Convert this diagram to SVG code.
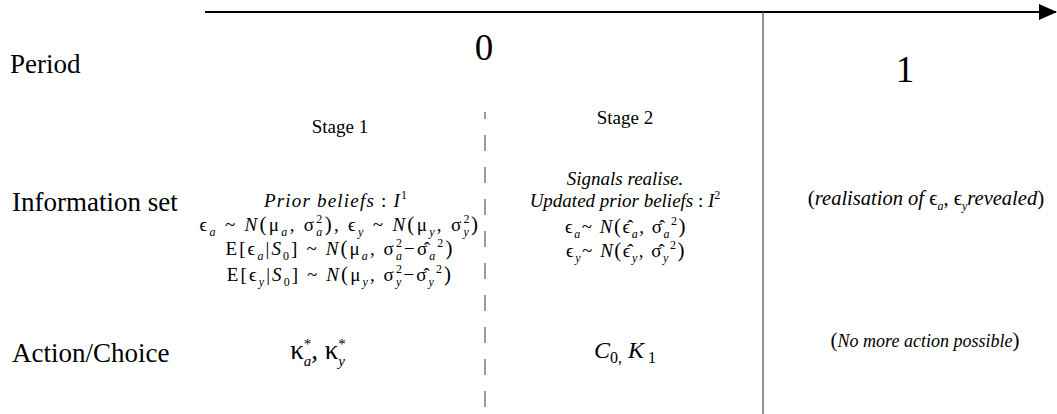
<svg xmlns="http://www.w3.org/2000/svg" width="1057" height="414" viewBox="0 0 1057 414">
<style>
text{font-family:"Liberation Serif","DejaVu Serif",serif;fill:#000}
.lbl{font-size:27px}
.big{font-size:37px;text-anchor:middle}
.st{font-size:19px;text-anchor:middle}
.m{font-size:19px;text-anchor:middle}
.m2{font-size:19px;text-anchor:middle;letter-spacing:1.5px}
.i{font-style:italic}
.s{font-size:12px}
.p{font-size:21px}
.ax{stroke:#000;stroke-width:2;fill:none}
.div{stroke:#555;stroke-width:1.3;fill:none}
.dash{stroke:#666;stroke-width:1.3;stroke-dasharray:16 16;fill:none}
</style>
<defs>
<marker id="ah" markerWidth="18" markerHeight="16" refX="17" refY="8" orient="auto" markerUnits="userSpaceOnUse" viewBox="0 0 18 16">
<path d="M0,0 L18,8 L0,16 z" fill="#000"/>
</marker>
</defs>
<g id="connectors">
<path class="ax" d="M205,12 H1056" marker-end="url(#ah)"/>
<path class="div" d="M763,12 V414"/>
<path class="dash" d="M485,112 V410" stroke-dashoffset="9"/>
</g>
<g id="row-labels">
<text class="lbl" x="10" y="73">Period</text>
<text class="lbl" x="12" y="211">Information set</text>
<text class="lbl" x="12" y="362">Action/Choice</text>
</g>
<g id="period-0"><text class="big" x="484" y="60">0</text></g>
<g id="period-1"><text class="big" x="905" y="82">1</text></g>
<g id="stage-1">
<text class="st" x="340" y="133">Stage 1</text>
<text class="m" x="336" y="207" style="letter-spacing:1.2px"><tspan class="i">Prior beliefs</tspan> : <tspan class="i">I</tspan><tspan class="s" dy="-8">1</tspan></text>
<text class="m" x="340" y="231" style="letter-spacing:2.3px">ϵ<tspan class="s i" dy="5">a</tspan><tspan dy="-5"> ~ </tspan><tspan class="i">N</tspan><tspan class="p">(</tspan>μ<tspan class="s i" dy="5">a</tspan><tspan dy="-5">, σ</tspan><tspan class="s" dy="-8.5">2</tspan><tspan class="s i" dx="-8.3" dy="13.5">a</tspan><tspan class="p" dy="-5">)</tspan>, ϵ<tspan class="s i" dy="5">y</tspan><tspan dy="-5"> ~ </tspan><tspan class="i">N</tspan><tspan class="p">(</tspan>μ<tspan class="s i" dy="5">y</tspan><tspan dy="-5">, σ</tspan><tspan class="s" dy="-8.5">2</tspan><tspan class="s i" dx="-8.3" dy="13.5">y</tspan><tspan class="p" dy="-5">)</tspan></text>
<text class="m" x="340" y="255" style="letter-spacing:2.1px">E[ϵ<tspan class="s i" dy="5">a</tspan><tspan dy="-5">|</tspan><tspan class="i">S</tspan><tspan class="s" dy="5">0</tspan><tspan dy="-5">] ~ </tspan><tspan class="i">N</tspan><tspan class="p">(</tspan>μ<tspan class="s i" dy="5">a</tspan><tspan dy="-5">, σ</tspan><tspan class="s" dy="-8.5">2</tspan><tspan class="s i" dx="-8.1" dy="13.5">a</tspan><tspan dy="-5">−σ̂</tspan><tspan class="s i" dy="5">a</tspan><tspan class="s" dy="-13">2</tspan><tspan class="p" dy="8">)</tspan></text>
<text class="m" x="340" y="281" style="letter-spacing:2.1px">E[ϵ<tspan class="s i" dy="5">y</tspan><tspan dy="-5">|</tspan><tspan class="i">S</tspan><tspan class="s" dy="5">0</tspan><tspan dy="-5">] ~ </tspan><tspan class="i">N</tspan><tspan class="p">(</tspan>μ<tspan class="s i" dy="5">y</tspan><tspan dy="-5">, σ</tspan><tspan class="s" dy="-8.5">2</tspan><tspan class="s i" dx="-8.1" dy="13.5">y</tspan><tspan dy="-5">−σ̂</tspan><tspan class="s i" dy="5">y</tspan><tspan class="s" dy="-13">2</tspan><tspan class="p" dy="8">)</tspan></text>
<text x="318" y="359" style="font-size:27px;text-anchor:middle">κ<tspan style="font-size:15px" dy="-10">*</tspan><tspan class="i" style="font-size:15px" dx="-7.5" dy="17">a</tspan><tspan dy="-7">, κ</tspan><tspan style="font-size:15px" dy="-10">*</tspan><tspan class="i" style="font-size:15px" dx="-7.5" dy="17">y</tspan></text>
</g>
<g id="stage-2">
<text class="st" x="625" y="124">Stage 2</text>
<text class="m i" x="625" y="185">Signals realise.</text>
<text class="m" x="625" y="207"><tspan class="i">Updated prior beliefs</tspan> : <tspan class="i">I</tspan><tspan class="s" dy="-8">2</tspan></text>
<text class="m2" x="626" y="233">ϵ<tspan class="s i" dy="5">a</tspan><tspan dy="-5">~ </tspan><tspan class="i">N</tspan><tspan class="p">(</tspan>ϵ̂<tspan class="s i" dy="5">a</tspan><tspan dy="-5">, σ̂</tspan><tspan class="s i" dy="5">a</tspan><tspan class="s" dy="-13">2</tspan><tspan class="p" dy="8">)</tspan></text>
<text class="m2" x="626" y="257">ϵ<tspan class="s i" dy="5">y</tspan><tspan dy="-5">~ </tspan><tspan class="i">N</tspan><tspan class="p">(</tspan>ϵ̂<tspan class="s i" dy="5">y</tspan><tspan dy="-5">, σ̂</tspan><tspan class="s i" dy="5">y</tspan><tspan class="s" dy="-13">2</tspan><tspan class="p" dy="8">)</tspan></text>
<text class="i" x="625" y="358" style="font-size:24px;text-anchor:middle">C<tspan style="font-size:16px;font-style:normal" dy="5">0,</tspan><tspan dy="-5"> K</tspan><tspan style="font-size:16px;font-style:normal" dy="5"> 1</tspan></text>
</g>
<g id="period-1-info">
<text class="m" x="926" y="205" style="font-size:20.5px"><tspan class="p">(</tspan><tspan class="i">realisation of </tspan>ϵ<tspan class="s i" dy="5">a</tspan><tspan dy="-5">, ϵ</tspan><tspan class="s i" dy="5">y</tspan><tspan class="i" dy="-5">revealed</tspan><tspan class="p">)</tspan></text>
<text class="m" x="925" y="347" style="font-size:18px"><tspan class="p">(</tspan><tspan class="i">No more action possible</tspan><tspan class="p">)</tspan></text>
</g>
</svg>
